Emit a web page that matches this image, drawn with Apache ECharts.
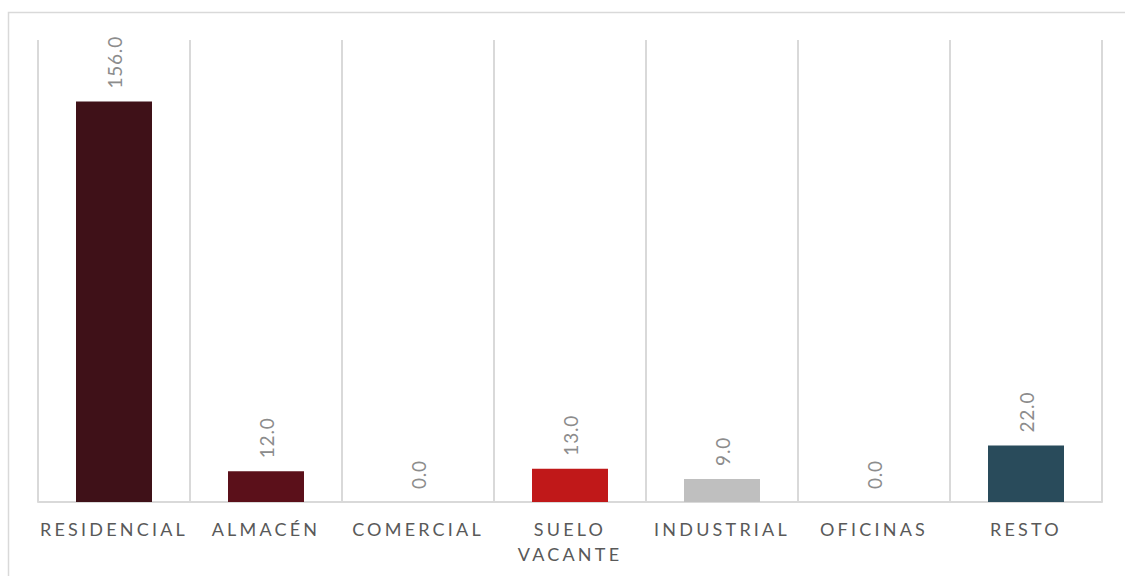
<!DOCTYPE html>
<html>
<head>
<meta charset="utf-8">
<script src="https://cdn.jsdelivr.net/npm/echarts@6/dist/echarts.min.js"></script>
<style>
  html, body { margin: 0; padding: 0; background: #fff; }
  #chart { width: 1125px; height: 576px; }
  /* spaced capitals for the category names */
  #chart text[fill="#595959"] { letter-spacing: 3.2px; }
  #chart text[fill="#8c8c8c"] { letter-spacing: 0.8px; }
</style>
</head>
<body>
<div id="chart"></div>
<script>
const categories = ['RESIDENCIAL', 'ALMACÉN', 'COMERCIAL', 'SUELO VACANTE', 'INDUSTRIAL', 'OFICINAS', 'RESTO'];
const values = [156, 12, 0, 13, 9, 0, 22];
const barColors = ['#3f1118', '#5b101a', '#c8c8c8', '#c01819', '#bfbfbf', '#c8c8c8', '#294b5b'];

const chart = echarts.init(document.getElementById('chart'), null, { renderer: 'svg' });

chart.setOption({
  animation: false,
  backgroundColor: '#ffffff',
  textStyle: { fontFamily: 'Lato, sans-serif' },
  graphic: [{
    type: 'rect',
    shape: { x: 8.5, y: 12.5, width: 1130, height: 580 },
    style: { fill: 'none', stroke: '#d9d9d9', lineWidth: 1.5 },
    silent: true,
    z: -10
  }],
  grid: { left: 38, right: 23, top: 40, bottom: 74 },
  xAxis: {
    type: 'category',
    data: categories,
    axisLine: { show: true, lineStyle: { color: '#d9d9d9', width: 2 } },
    axisTick: { show: false },
    splitLine: { show: true, interval: 0, lineStyle: { color: '#d9d9d9', width: 2 } },
    axisLabel: {
      interval: 0,
      color: '#595959',
      fontSize: 18,
      lineHeight: 25,
      margin: 14,
      formatter: v => v.replace(' ', '\n')
    }
  },
  yAxis: {
    type: 'value',
    min: 0,
    max: 180,
    show: false,
    splitLine: { show: false }
  },
  series: [{
    type: 'bar',
    barWidth: '50%',
    data: values.map((v, i) => ({ value: v, itemStyle: { color: barColors[i] } })),
    label: {
      show: true,
      position: 'top',
      rotate: 90,
      align: 'left',
      verticalAlign: 'middle',
      distance: 13,
      color: '#8c8c8c',
      fontSize: 19,
      formatter: p => p.value.toFixed(1)
    }
  }]
});
</script>
</body>
</html>
